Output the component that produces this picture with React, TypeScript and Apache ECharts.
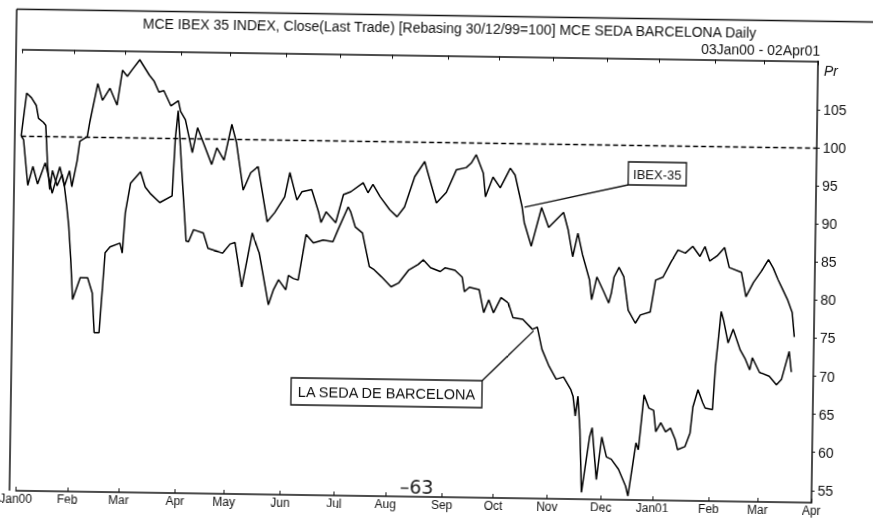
import React, { useEffect, useRef } from 'react';
import * as echarts from 'echarts';

// Trading-day index (0 = 03 Jan 2000) of the first trading day of each month
const monthStartDay = [0, 21, 42, 65, 85, 108, 130, 151, 174, 195, 217, 239, 260, 283, 303, 325];
const monthLabels = ['Jan00', 'Feb', 'Mar', 'Apr', 'May', 'Jun', 'Jul', 'Aug', 'Sep', 'Oct', 'Nov', 'Dec', 'Jan01', 'Feb', 'Mar', 'Apr'];
const yTickValues = [55, 60, 65, 70, 75, 80, 85, 90, 95, 100, 105];

const ibexDay = [0, 1, 3, 5, 7, 10, 12, 13, 16, 18, 20, 21, 23, 24, 27, 28, 31, 33, 36, 39, 41, 43, 45, 48, 52, 54, 56, 58, 61, 64, 65, 67, 70, 72, 74, 78, 80, 83, 86, 88, 91, 94, 97, 101, 104, 108, 110, 113, 115, 119, 122, 123, 125, 129, 132, 135, 140, 142, 144, 147, 151, 154, 157, 161, 165, 166, 170, 174, 178, 182, 184, 186, 189, 190, 193, 196, 200, 202, 205, 206, 209, 213, 216, 222, 224, 226, 228, 230, 233, 234, 236, 239, 241, 242, 243, 245, 247, 249, 252, 254, 258, 260, 263, 266, 269, 272, 275, 278, 280, 282, 285, 288, 290, 295, 297, 300, 303, 306, 308, 310, 312, 314, 316, 317];
const ibexValue = [100, 99.5, 93.5, 96.0, 93.7, 96.5, 94.0, 92.5, 96.0, 93.5, 95.5, 93.4, 96.8, 99.4, 100.0, 102.0, 107.0, 104.8, 106.4, 104.2, 108.8, 108.0, 108.9, 110.2, 108.2, 107.4, 106.0, 106.2, 104.2, 104.9, 103.5, 102.4, 98.1, 101.4, 99.8, 96.6, 98.8, 97.2, 101.9, 99.5, 93.3, 95.6, 96.4, 89.2, 90.4, 92.5, 95.7, 92.1, 93.2, 93.5, 90.5, 89.2, 90.6, 89.2, 92.9, 93.3, 94.5, 93.2, 94.3, 92.7, 91.0, 90.1, 91.4, 95.4, 97.4, 96.3, 92.0, 93.4, 96.4, 96.7, 97.3, 98.4, 96.0, 92.9, 95.5, 94.1, 96.7, 95.8, 91.7, 89.6, 86.5, 91.6, 89.0, 91.0, 88.7, 85.2, 88.3, 85.5, 82.2, 79.6, 82.6, 80.6, 79.2, 80.5, 82.6, 83.9, 82.7, 78.3, 76.6, 77.7, 78.1, 82.3, 82.7, 84.6, 86.3, 85.9, 86.8, 85.5, 86.8, 84.9, 85.6, 86.7, 84.1, 83.5, 80.3, 82.2, 83.6, 85.2, 84.1, 82.6, 81.3, 80.0, 78.3, 75.1];

const sedaDay = [0, 2, 4, 6, 7, 9, 10, 11, 12, 13, 15, 17, 18, 19, 20, 21, 22, 25, 28, 30, 31, 33, 35, 37, 41, 42, 43, 45, 49, 51, 53, 57, 62, 63, 64, 66, 68, 69, 71, 75, 77, 80, 83, 86, 88, 91, 93, 95, 98, 102, 104, 106, 109, 110, 112, 114, 117, 120, 124, 128, 130, 134, 135, 137, 140, 143, 145, 148, 152, 155, 159, 163, 165, 168, 172, 174, 178, 181, 182, 184, 188, 190, 192, 194, 197, 200, 202, 206, 210, 212, 214, 217, 220, 223, 226, 227, 228, 229, 230, 231, 234, 235, 237, 239, 241, 243, 246, 249, 250, 253, 254, 256, 258, 260, 261, 263, 265, 267, 269, 270, 273, 275, 276, 278, 280, 281, 284, 285, 287, 288, 290, 292, 295, 297, 299, 300, 303, 307, 310, 312, 315, 316];
const sedaValue = [100, 105.6, 105.0, 104.0, 102.3, 101.8, 101.4, 96.0, 93.0, 95.5, 93.5, 95.0, 93.4, 91.0, 88.2, 83.9, 78.6, 81.5, 81.5, 79.5, 74.3, 74.3, 84.8, 85.6, 86.1, 84.8, 90.1, 94.0, 95.5, 93.5, 92.7, 91.5, 92.4, 100.0, 103.6, 95.0, 86.5, 86.4, 88.0, 87.6, 85.6, 85.3, 85.0, 86.2, 86.4, 80.6, 84.1, 87.7, 85.0, 78.3, 80.3, 81.6, 80.3, 82.2, 81.8, 81.6, 87.6, 86.5, 86.9, 86.7, 88.3, 91.3, 90.7, 88.7, 87.9, 83.5, 83.1, 82.2, 80.9, 81.4, 83.1, 83.9, 84.5, 83.5, 83.0, 83.5, 83.2, 82.3, 80.4, 81.0, 80.7, 77.7, 79.4, 77.7, 79.7, 79.0, 77.1, 76.9, 75.6, 75.9, 73.0, 70.8, 69.1, 69.4, 67.8, 66.9, 64.3, 66.9, 62.5, 54.3, 61.6, 62.8, 56.0, 61.6, 59.0, 58.7, 57.4, 55.2, 53.9, 60.9, 60.0, 67.2, 65.5, 65.2, 62.4, 63.6, 62.4, 62.9, 61.4, 60.1, 60.5, 62.3, 65.7, 68.0, 66.3, 65.6, 65.4, 71.1, 78.3, 77.2, 74.2, 76.0, 73.3, 72.2, 70.7, 72.3, 70.4, 69.9, 68.8, 69.5, 73.2, 70.5];

const titleText = 'MCE IBEX 35 INDEX, Close(Last Trade) [Rebasing 30/12/99=100] MCE SEDA BARCELONA Daily';
const dateRangeText = '03Jan00 - 02Apr01';
const ibexLabel = 'IBEX-35';
const sedaLabel = 'LA SEDA DE BARCELONA';

export default function App() {
  const ref = useRef<HTMLDivElement>(null);

  useEffect(() => {
    const el = ref.current;
    if (!el) return;
    const chart = echarts.init(el, null, { renderer: 'svg' });
    const font = '"Liberation Sans", Arial, sans-serif';
    const ink = '#111';

    const monthFormatter = (v: number) => {
      const i = monthStartDay.indexOf(Math.round(v));
      return i >= 0 ? monthLabels[i] : '';
    };

    chart.setOption({
      animation: false,
      backgroundColor: '#fff',
      textStyle: { fontFamily: font, color: ink },
      grid: { left: 14, right: 58, top: 55.5, bottom: 23, show: false },
      xAxis: [
        {
          type: 'value',
          position: 'bottom',
          min: 0,
          max: 325,
          axisLine: { show: true, onZero: false, lineStyle: { color: ink, width: 1.5 } },
          axisTick: { show: true, inside: true, length: 4, customValues: monthStartDay, lineStyle: { color: ink } },
          axisLabel: {
            show: true,
            customValues: monthStartDay,
            formatter: monthFormatter,
            fontSize: 12,
            fontFamily: font,
            color: ink,
            margin: 2,
            hideOverlap: false,
          },
          splitLine: { show: false },
        },
        {
          type: 'value',
          position: 'top',
          min: 0,
          max: 325,
          axisLine: { show: true, onZero: false, lineStyle: { color: ink, width: 1.5 } },
          axisTick: { show: true, inside: true, length: 4, customValues: monthStartDay, lineStyle: { color: ink } },
          axisLabel: { show: false },
          splitLine: { show: false },
        },
      ],
      yAxis: {
        type: 'value',
        position: 'right',
        min: 53.4,
        max: 111.35,
        axisLine: { show: true, onZero: false, lineStyle: { color: ink, width: 1.5 } },
        axisTick: { show: true, length: 3, customValues: yTickValues, lineStyle: { color: ink } },
        axisLabel: {
          show: true,
          customValues: yTickValues,
          fontSize: 14,
          fontFamily: font,
          color: ink,
          margin: 6,
        },
        splitLine: { show: false },
      },
      series: [
        {
          name: 'IBEX-35',
          type: 'line',
          showSymbol: false,
          symbol: 'none',
          data: ibexDay.map((d, i) => [d, ibexValue[i]]),
          lineStyle: { color: '#000', width: 1.5 },
          markLine: {
            silent: true,
            symbol: 'none',
            label: { show: false },
            lineStyle: { color: '#000', width: 1.4, type: [5, 3] },
            data: [{ yAxis: 100 }],
          },
        },
        {
          name: 'LA SEDA DE BARCELONA',
          type: 'line',
          showSymbol: false,
          symbol: 'none',
          data: sedaDay.map((d, i) => [d, sedaValue[i]]),
          lineStyle: { color: '#000', width: 1.5 },
        },
      ],
    });

    const ibexTip = chart.convertToPixel({ gridIndex: 0 }, [206, 91.6]) as number[];
    const sedaTip = chart.convertToPixel({ gridIndex: 0 }, [210.5, 75.4]) as number[];
    const bottomY = 520 - 23;

    chart.setOption({
      graphic: [
        { type: 'line', shape: { x1: 13, y1: 15.5, x2: 873, y2: 15.5 }, style: { stroke: ink, lineWidth: 1.5 } },
        { type: 'line', shape: { x1: 13, y1: 15.5, x2: 13, y2: bottomY }, style: { stroke: ink, lineWidth: 1.5 } },
        {
          type: 'text', x: 446, y: 28,
          style: { text: titleText, font: `14px ${font}`, fill: ink, textAlign: 'center', textVerticalAlign: 'middle' },
        },
        {
          type: 'text', x: 817, y: 45,
          style: { text: dateRangeText, font: `14px ${font}`, fill: ink, textAlign: 'right', textVerticalAlign: 'middle' },
        },
        {
          type: 'text', x: 821, y: 65,
          style: { text: 'Pr', font: `italic 14px ${font}`, fill: ink, textAlign: 'left', textVerticalAlign: 'middle' },
        },
        // IBEX-35 annotation
        { type: 'line', shape: { x1: 627, y1: 182, x2: ibexTip[0], y2: ibexTip[1] }, style: { stroke: ink, lineWidth: 1.3 } },
        { type: 'rect', shape: { x: 627, y: 159, width: 58, height: 23 }, style: { fill: '#fff', stroke: ink, lineWidth: 1.3 } },
        {
          type: 'text', x: 656, y: 171,
          style: { text: ibexLabel, font: `13px ${font}`, fill: ink, textAlign: 'center', textVerticalAlign: 'middle' },
        },
        // LA SEDA annotation
        { type: 'line', shape: { x1: 484, y1: 380, x2: sedaTip[0], y2: sedaTip[1] }, style: { stroke: ink, lineWidth: 1.3 } },
        { type: 'rect', shape: { x: 293, y: 380, width: 191, height: 27 }, style: { fill: '#fff', stroke: ink, lineWidth: 1.3 } },
        {
          type: 'text', x: 388.5, y: 394,
          style: { text: sedaLabel, font: `14.5px ${font}`, fill: ink, textAlign: 'center', textVerticalAlign: 'middle' },
        },
        // handwritten page number
        {
          type: 'text', x: 420, y: 487,
          style: { text: '\u201363', font: `19px "DejaVu Sans", sans-serif`, fill: '#222', textAlign: 'center', textVerticalAlign: 'middle' },
        },
      ],
    });

    return () => chart.dispose();
  }, []);

  return (
    <div
      ref={ref}
      style={{
        position: 'fixed',
        left: 0,
        top: 0,
        width: 873,
        height: 520,
        background: '#fff',
        transform: 'rotate(0.86deg)',
        transformOrigin: '50% 50%',
      }}
    />
  );
}
